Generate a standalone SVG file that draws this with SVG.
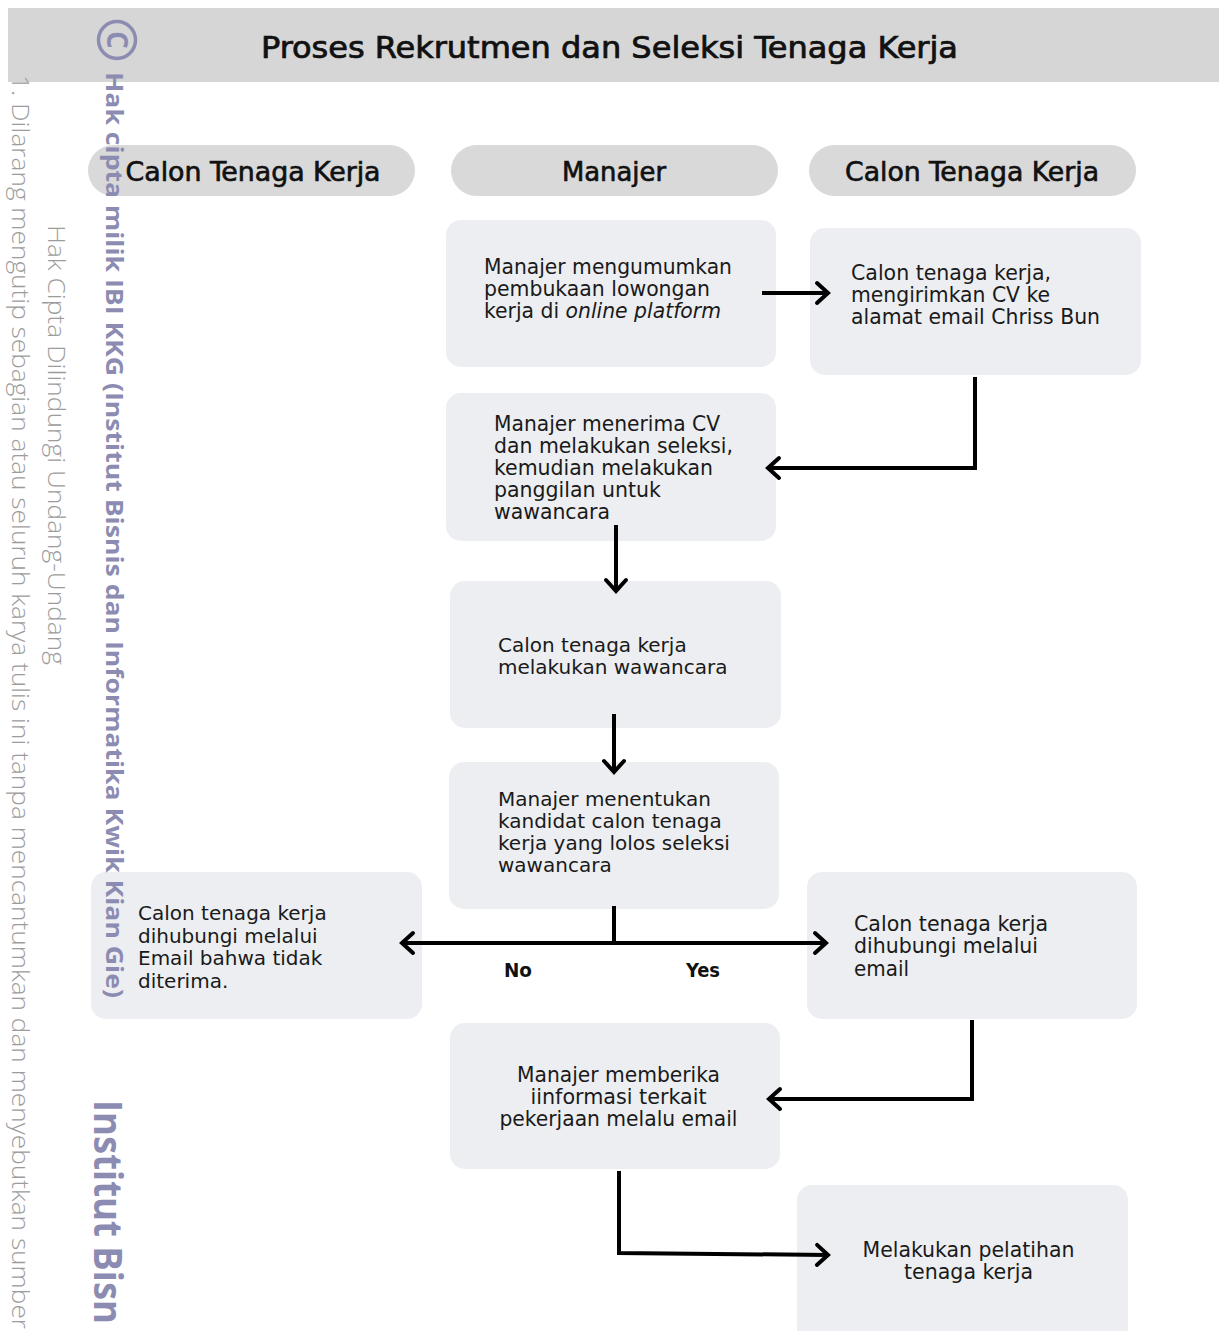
<svg xmlns="http://www.w3.org/2000/svg" width="1219" height="1331" viewBox="0 0 1219 1331">
<defs>
<marker id="arr" markerUnits="userSpaceOnUse" viewBox="-16 -14 20 28" markerWidth="20" markerHeight="28" refX="0" refY="0" orient="auto">
<path d="M-11,-10 L0,0 L-11,10" fill="none" stroke="#000" stroke-width="4" stroke-linecap="round" stroke-linejoin="miter"/>
</marker>
</defs>
<style>
.bg{fill:#ffffff}
.titlebar{fill:#d6d6d6}
.pill{fill:#d9d9d9}
.node{fill:#eceef1}
.ttl{font-family:"DejaVu Sans Condensed","Liberation Sans Narrow",Roboto,sans-serif;font-size:30px;fill:#111;stroke:#111;stroke-width:0.7}
.hdr{font-family:"DejaVu Sans Condensed","Liberation Sans Narrow",Roboto,sans-serif;font-size:26px;fill:#111;text-anchor:middle;stroke:#111;stroke-width:0.6}
.c{font-family:"DejaVu Sans Condensed","Liberation Sans Narrow",Roboto,sans-serif;font-size:21px;fill:#1a1a1a}
.d{font-family:"DejaVu Sans",Verdana,sans-serif;font-size:20px;fill:#1a1a1a}
.lbl{font-family:"DejaVu Sans Condensed","Liberation Sans Narrow",Roboto,sans-serif;font-size:19px;font-weight:700;fill:#111}
.edge{fill:none;stroke:#000;stroke-width:4}
.wm1{font-family:"Open Sans","Noto Sans",sans-serif;font-weight:300;fill:#9c9c9c}
.wm2{font-family:"Open Sans","Noto Sans",sans-serif;font-weight:700;fill:#8c8cb2}
</style>
<rect class="bg" x="0" y="0" width="1219" height="1331"/>
<g id="title">
<rect class="titlebar" x="8" y="8" width="1211" height="74"/>
<text class="ttl" x="261" y="58" textLength="697" lengthAdjust="spacingAndGlyphs">Proses Rekrutmen dan Seleksi Tenaga Kerja</text>
</g>
<g id="lane-left">
<rect class="pill" x="88" y="145" width="327" height="51" rx="25.5"/>
<text class="hdr" x="253" y="181" textLength="255" lengthAdjust="spacingAndGlyphs">Calon Tenaga Kerja</text>
</g>
<g id="lane-mid">
<rect class="pill" x="451" y="145" width="327" height="51" rx="25.5"/>
<text class="hdr" x="614" y="181" textLength="104" lengthAdjust="spacingAndGlyphs">Manajer</text>
</g>
<g id="lane-right">
<rect class="pill" x="809" y="145" width="327" height="51" rx="25.5"/>
<text class="hdr" x="972" y="181" textLength="254" lengthAdjust="spacingAndGlyphs">Calon Tenaga Kerja</text>
</g>
<g id="n1">
<rect class="node" x="446" y="220" width="330" height="147" rx="15"/>
<text class="c" x="484" y="274" textLength="248" lengthAdjust="spacingAndGlyphs">Manajer mengumumkan</text>
<text class="c" x="484" y="296" textLength="226" lengthAdjust="spacingAndGlyphs">pembukaan lowongan</text>
<text class="c" x="484" y="318" textLength="237" lengthAdjust="spacingAndGlyphs">kerja di <tspan font-style="italic">online platform</tspan></text>
</g>
<g id="n2">
<rect class="node" x="810" y="228" width="331" height="147" rx="15"/>
<text class="c" x="851" y="280" textLength="200" lengthAdjust="spacingAndGlyphs">Calon tenaga kerja,</text>
<text class="c" x="851" y="302" textLength="199" lengthAdjust="spacingAndGlyphs">mengirimkan CV ke</text>
<text class="c" x="851" y="324" textLength="249" lengthAdjust="spacingAndGlyphs">alamat email Chriss Bun</text>
</g>
<g id="n3">
<rect class="node" x="446" y="393" width="330" height="148" rx="15"/>
<text class="c" x="494" y="431" textLength="226" lengthAdjust="spacingAndGlyphs">Manajer menerima CV</text>
<text class="c" x="494" y="453" textLength="239" lengthAdjust="spacingAndGlyphs">dan melakukan seleksi,</text>
<text class="c" x="494" y="475" textLength="219" lengthAdjust="spacingAndGlyphs">kemudian melakukan</text>
<text class="c" x="494" y="497" textLength="167" lengthAdjust="spacingAndGlyphs">panggilan untuk</text>
<text class="c" x="494" y="519" textLength="116" lengthAdjust="spacingAndGlyphs">wawancara</text>
</g>
<g id="n4">
<rect class="node" x="450" y="581" width="331" height="147" rx="15"/>
<text class="d" x="498" y="652">Calon tenaga kerja</text>
<text class="d" x="498" y="674">melakukan wawancara</text>
</g>
<g id="n5">
<rect class="node" x="449" y="762" width="330" height="147" rx="15"/>
<text class="d" x="498" y="806">Manajer menentukan</text>
<text class="d" x="498" y="828">kandidat calon tenaga</text>
<text class="d" x="498" y="850">kerja yang lolos seleksi</text>
<text class="d" x="498" y="872">wawancara</text>
</g>
<g id="n6">
<rect class="node" x="91" y="872" width="331" height="147" rx="15"/>
<text class="d" x="138" y="920">Calon tenaga kerja</text>
<text class="d" x="138" y="943">dihubungi melalui</text>
<text class="d" x="138" y="965">Email bahwa tidak</text>
<text class="d" x="138" y="988">diterima.</text>
</g>
<g id="n7">
<rect class="node" x="807" y="872" width="330" height="147" rx="15"/>
<text class="c" x="854" y="931" textLength="194" lengthAdjust="spacingAndGlyphs">Calon tenaga kerja</text>
<text class="c" x="854" y="953" textLength="184" lengthAdjust="spacingAndGlyphs">dihubungi melalui</text>
<text class="c" x="854" y="976" textLength="55" lengthAdjust="spacingAndGlyphs">email</text>
</g>
<g id="n8">
<rect class="node" x="450" y="1023" width="330" height="146" rx="15"/>
<text class="c" x="618.5" y="1082" text-anchor="middle" textLength="203" lengthAdjust="spacingAndGlyphs">Manajer memberika</text>
<text class="c" x="618.5" y="1104" text-anchor="middle" textLength="176" lengthAdjust="spacingAndGlyphs">iinformasi terkait</text>
<text class="c" x="618.5" y="1126" text-anchor="middle" textLength="238" lengthAdjust="spacingAndGlyphs">pekerjaan melalu email</text>
</g>
<g id="n9">
<rect class="node" x="797" y="1185" width="331" height="160" rx="15"/>
<text class="c" x="968.5" y="1257" text-anchor="middle" textLength="212" lengthAdjust="spacingAndGlyphs">Melakukan pelatihan</text>
<text class="c" x="968.5" y="1279" text-anchor="middle" textLength="129" lengthAdjust="spacingAndGlyphs">tenaga kerja</text>
</g>
<g id="connectors">
<path class="edge" d="M762,293 L828,293" marker-end="url(#arr)"/>
<path class="edge" d="M975,377 L975,468 L768,468" marker-end="url(#arr)"/>
<path class="edge" d="M616,525 L616,591" marker-end="url(#arr)"/>
<path class="edge" d="M614,714 L614,772" marker-end="url(#arr)"/>
<path class="edge" d="M614,906 L614,943"/>
<path class="edge" d="M614,943 L402,943" marker-end="url(#arr)"/>
<path class="edge" d="M614,943 L826,943" marker-end="url(#arr)"/>
<path class="edge" d="M972,1020 L972,1099 L769,1099" marker-end="url(#arr)"/>
<path class="edge" d="M619,1171 L619,1253 L828,1255" marker-end="url(#arr)"/>
<text class="lbl" x="504" y="977" textLength="28" lengthAdjust="spacingAndGlyphs">No</text>
<text class="lbl" x="686" y="977" textLength="34" lengthAdjust="spacingAndGlyphs">Yes</text>
</g>
<g id="watermark">
<text class="wm1" font-size="24" transform="translate(12,75) rotate(90)" textLength="1254" lengthAdjust="spacingAndGlyphs">1. Dilarang mengutip sebagian atau seluruh karya tulis ini tanpa mencantumkan dan menyebutkan sumber</text>
<text class="wm1" font-size="23" transform="translate(48,225) rotate(90)" textLength="440" lengthAdjust="spacingAndGlyphs">Hak Cipta Dilindungi Undang-Undang</text>
<circle cx="117" cy="40" r="18.5" fill="none" stroke="#8c8cb2" stroke-width="3.5"/>
<text class="wm2" font-size="28" text-anchor="middle" transform="translate(107,40) rotate(90)" y="0">C</text>
<text class="wm2" font-size="24" transform="translate(106,72) rotate(90)" textLength="926" lengthAdjust="spacingAndGlyphs">Hak cipta milik IBI KKG (Institut Bisnis dan Informatika Kwik Kian Gie)</text>
<text class="wm2" font-size="40" font-weight="900" transform="translate(94,1100) rotate(90)" textLength="224" lengthAdjust="spacingAndGlyphs">Institut Bisn</text>
</g>
</svg>
